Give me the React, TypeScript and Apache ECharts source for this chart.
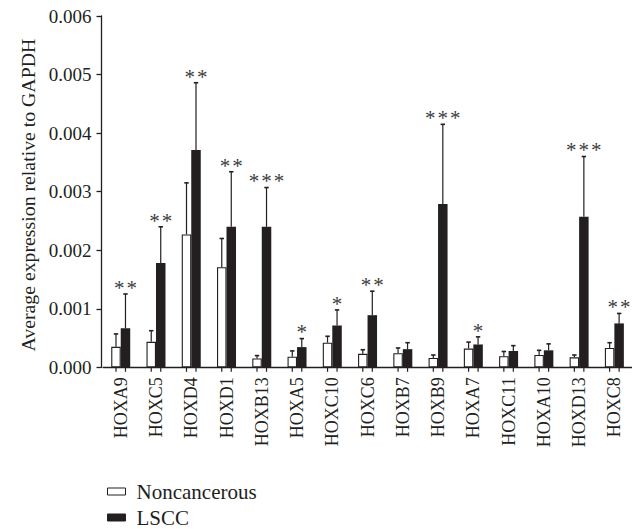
import React, { useEffect, useRef } from "react";
import * as echarts from "echarts";

const categories = ["HOXA9", "HOXC5", "HOXD4", "HOXD1", "HOXB13", "HOXA5", "HOXC10", "HOXC6", "HOXB7", "HOXB9", "HOXA7", "HOXC11", "HOXA10", "HOXD13", "HOXC8"];
const noncancerous = [0.00035, 0.000435, 0.00227, 0.00171, 0.00015, 0.00018, 0.00042, 0.00023, 0.00024, 0.00016, 0.00032, 0.00019, 0.00021, 0.00017, 0.00033];
const noncancerousSd = [0.00022, 0.00019, 0.00088, 0.00049, 0.00005, 0.0001, 0.00011, 0.00007, 0.00009, 0.00005, 0.00011, 0.00008, 0.00008, 0.00004, 0.00009];
const lscc = [0.000666, 0.00178, 0.00371, 0.0024, 0.0024, 0.000345, 0.000714, 0.00089, 0.00031, 0.00279, 0.00039, 0.00028, 0.00029, 0.00257, 0.00075];
const lsccSd = [0.000586, 0.00062, 0.00115, 0.00094, 0.00067, 0.000145, 0.000266, 0.00041, 0.00011, 0.00136, 0.00013, 0.00009, 0.00011, 0.00103, 0.00017];
const significance = ["**", "**", "**", "**", "***", "*", "*", "**", "", "***", "*", "", "", "***", "**"];
const yTicks = { min: 0, max: 0.006, interval: 0.001 };

const INK = "#231f20";
const SERIF = "'Liberation Serif', 'Times New Roman', serif";
const BAR_W = 9.5;
const STAR_STEP = 12.5;

export default function App() {
  const ref = useRef<HTMLDivElement>(null);
  useEffect(() => {
    if (!ref.current) return;
    const chart = echarts.init(ref.current, null, { renderer: "svg" });
    const option: any = {
      animation: false,
      textStyle: { fontFamily: "Liberation Serif" },
      grid: { left: 103.1, right: -7.4, top: 16, bottom: 161.7, containLabel: false },
      legend: {
        orient: "vertical",
        left: 107,
        top: 481,
        padding: 0,
        itemWidth: 18,
        itemHeight: 7,
        itemGap: 5,
        icon: "rect",
        data: ["Noncancerous", "LSCC"],
        itemStyle: { borderWidth: 1, borderColor: INK },
        textStyle: { fontFamily: "Liberation Serif", fontSize: 21, color: INK, padding: [0, 0, 0, 6] },
      },
      xAxis: {
        type: "category",
        data: categories,
        axisLine: { lineStyle: { color: INK, width: 1.3 } },
        axisTick: { show: false },
        axisLabel: { rotate: 90, interval: 0, fontFamily: SERIF, fontSize: 18, color: INK, margin: 10 },
      },
      yAxis: {
        type: "value",
        min: yTicks.min,
        max: yTicks.max,
        interval: yTicks.interval,
        offset: 1.6,
        axisLine: { show: true, lineStyle: { color: INK, width: 1.3 } },
        axisTick: { show: true, length: 5, lineStyle: { color: INK, width: 1.3 } },
        splitLine: { show: false },
        axisLabel: { formatter: (v: number) => v.toFixed(3), fontFamily: SERIF, fontSize: 19, color: INK, margin: 10 },
        name: "Average expression relative to GAPDH",
        nameLocation: "middle",
        nameGap: 62,
        nameTextStyle: { fontFamily: SERIF, fontSize: 19.8, color: INK, padding: [0, 7, 0, 0] },
      },
      series: [
        {
          name: "Noncancerous",
          type: "bar",
          data: noncancerous,
          barWidth: BAR_W,
          barGap: "0%",
          itemStyle: { color: "#ffffff", borderColor: INK, borderWidth: 1.1 },
        },
        {
          name: "LSCC",
          type: "bar",
          data: lscc,
          barWidth: BAR_W,
          barGap: "0%",
          itemStyle: { color: INK, borderColor: INK, borderWidth: 0 },
        },
        {
          name: "errors",
          type: "custom",
          z: 5,
          clip: false,
          data: categories.map((_, i) => [i, noncancerous[i], noncancerousSd[i], lscc[i], lsccSd[i]]),
          encode: { x: 0, y: [1, 3] },
          renderItem: (params: any, api: any) => {
            const i = api.value(0);
            const base = api.coord([i, 0]);
            const children: any[] = [];
            const pairs = [
              [api.value(1), api.value(2), -BAR_W / 2],
              [api.value(3), api.value(4), BAR_W / 2],
            ];
            let lsccTop = 0;
            let lsccX = 0;
            pairs.forEach(([m, sd, off], k) => {
              const xc = base[0] + off;
              const top = api.coord([i, m])[1];
              const et = api.coord([i, m + sd])[1];
              if (k === 1) {
                lsccTop = et;
                lsccX = xc;
              }
              children.push({ type: "line", shape: { x1: xc, y1: top, x2: xc, y2: et }, style: { stroke: INK, lineWidth: 1.2 } });
              children.push({ type: "line", shape: { x1: xc - 2.2, y1: et, x2: xc + 2.2, y2: et }, style: { stroke: INK, lineWidth: 1.6 } });
              children.push({ type: "line", shape: { x1: xc, y1: base[1], x2: xc, y2: base[1] + 4.5 }, style: { stroke: INK, lineWidth: 1.2 } });
            });
            const sig = significance[params.dataIndex];
            const n = sig.length;
            for (let s = 0; s < n; s++) {
              children.push({
                type: "text",
                x: lsccX + (s - (n - 1) / 2) * STAR_STEP,
                y: lsccTop - 6.2,
                style: {
                  text: "*",
                  fill: "#3c3c3c",
                  font: `21px ${SERIF}`,
                  align: "center",
                  verticalAlign: "middle",
                },
              });
            }
            return { type: "group", children };
          },
        },
      ],
    };
    chart.setOption(option);
    return () => chart.dispose();
  }, []);
  return <div ref={ref} style={{ position: "absolute", left: 0, top: 0, width: 632, height: 529 }} />;
}
